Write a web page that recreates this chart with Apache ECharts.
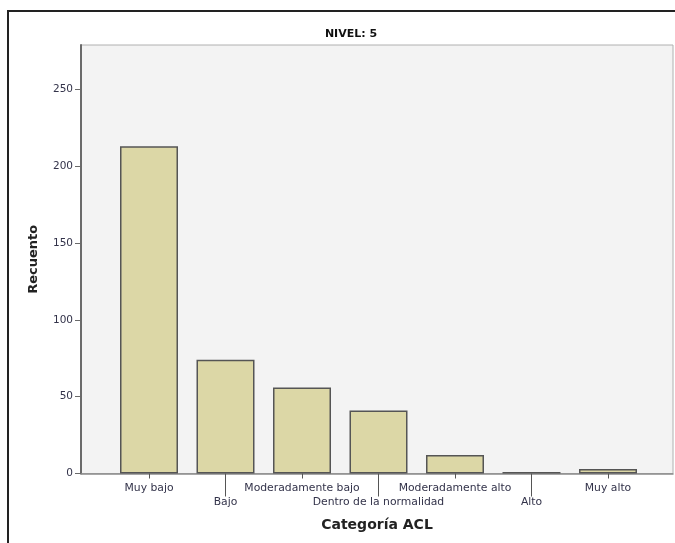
<!DOCTYPE html>
<html>
<head>
<meta charset="utf-8">
<script src="https://cdn.jsdelivr.net/npm/echarts@6/dist/echarts.min.js"></script>
<style>
html,body{margin:0;padding:0;background:#fff;}
#c{width:675px;height:543px;}
</style>
</head>
<body>
<div id="c"></div>
<script>
const categories = ['Muy bajo','Bajo','Moderadamente bajo','Dentro de la normalidad','Moderadamente alto','Alto','Muy alto'];
const counts = [213, 74, 56, 41, 12, 1, 3];
const yTicks = [0, 50, 100, 150, 200, 250];
const yMax = 279;
const titleText = 'NIVEL: 5';
const yTitle = 'Recuento';
const xTitle = 'Categoría ACL';

const FONT = 'DejaVu Sans';
const txt = '#33334a';

const chart = echarts.init(document.getElementById('c'), null, {renderer: 'canvas'});
const plot = {left: 81, right: 2, top: 45, bottom: 69.5};
const band = {left: 110.75, right: 28.75, top: 45, bottom: 69.5};

chart.setOption({
  animation: false,
  backgroundColor: '#fff',
  graphic: [{
    type: 'rect', shape: {x: 8, y: 11, width: 720, height: 600},
    style: {fill: 'none', stroke: '#222', lineWidth: 2}, z: 100
  }],
  title: {
    text: titleText, left: 346, top: 24, textAlign: 'center',
    textStyle: {fontFamily: FONT, fontWeight: 'bold', fontSize: 11, color: '#111'}
  },
  grid: [
    Object.assign({show: true, backgroundColor: '#f3f3f3', borderColor: '#b0b0b0', borderWidth: 1}, plot),
    Object.assign({}, band),
    Object.assign({}, band)
  ],
  xAxis: [
    {type: 'value', gridIndex: 0, min: 0, max: 1, position: 'bottom',
     axisLine: {show: true, lineStyle: {color: '#8a8a8a', width: 1.5}},
     axisTick: {show: false}, axisLabel: {show: false}, splitLine: {show: false},
     name: xTitle, nameLocation: 'middle', nameGap: 45,
     nameTextStyle: {fontFamily: FONT, fontWeight: 'bold', fontSize: 14, color: '#222'}},
    {type: 'category', gridIndex: 1, data: categories, position: 'bottom',
     axisLine: {show: false},
     axisTick: {show: true, alignWithLabel: true, length: 5,
                interval: (i) => i % 2 === 0, lineStyle: {color: '#555'}},
     axisLabel: {interval: 0, margin: 8, fontFamily: FONT, fontSize: 10.8, color: txt, lineHeight: 14,
                 formatter: (v, i) => (i % 2 === 1 ? '\n' + v : v)}},
    {type: 'category', gridIndex: 2, data: categories, position: 'bottom',
     axisLine: {show: false},
     axisTick: {show: true, alignWithLabel: true, length: 23,
                interval: (i) => i % 2 === 1, lineStyle: {color: '#555'}},
     axisLabel: {show: false}}
  ],
  yAxis: [
    {type: 'value', gridIndex: 0, min: 0, max: yMax,
     axisLine: {show: true, lineStyle: {color: '#6a6a6a', width: 2}},
     axisTick: {show: true, length: 6, customValues: yTicks, lineStyle: {color: '#6a6a6a'}},
     axisLabel: {customValues: yTicks, margin: 8, fontFamily: FONT, fontSize: 10.5, color: txt},
     splitLine: {show: false},
     name: yTitle, nameLocation: 'middle', nameGap: 41,
     nameTextStyle: {fontFamily: FONT, fontWeight: 'bold', fontSize: 13, color: '#222'}},
    {type: 'value', gridIndex: 1, min: 0, max: yMax, show: false},
    {type: 'value', gridIndex: 2, min: 0, max: yMax, show: false}
  ],
  series: [{
    type: 'bar', xAxisIndex: 1, yAxisIndex: 1, data: counts, barWidth: 58,
    itemStyle: {color: '#dcd7a6', borderColor: '#555', borderWidth: 1.5}
  }]
});
</script>
</body>
</html>
